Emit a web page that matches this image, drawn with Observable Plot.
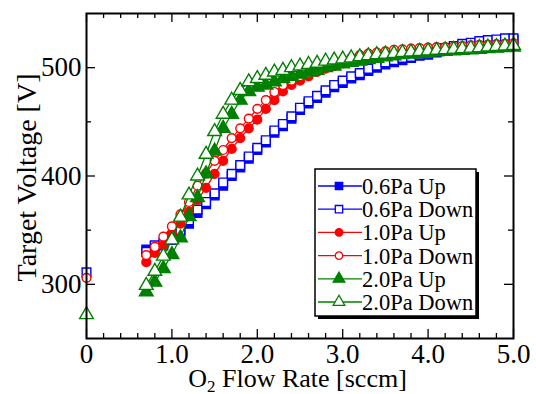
<!DOCTYPE html>
<html><head><meta charset="utf-8">
<script src="https://cdn.jsdelivr.net/npm/d3@7"></script>
<script src="https://cdn.jsdelivr.net/npm/@observablehq/plot@0.6"></script>
<style>html,body{margin:0;padding:0;background:#fff;}</style>
</head><body><div id="chart"></div>
<script>
// O2 flow rate [sccm]
const flow = [0.7,0.8,0.9,1.0, 1.1,1.2,1.3,1.4,1.5,1.6,1.7,1.8,1.9,2.0,
  2.1,2.2,2.3,2.4,2.5,2.6,2.7,2.8,2.9,3.0, 3.1,3.2,3.3,3.4,3.5,3.6,3.7,3.8,3.9,4.0,
  4.1,4.2,4.3,4.4,4.5,4.6,4.7,4.8,4.9,5.0];
// Target voltage [V]
const up06 = [332,335,336,341, 348,356,366,374,382,391,400,408,416,424,
  431,440,446,453,461,467,472,477,482,486, 490,493,497,500,503,505,507,509,511,512,
  514,516,518,520,521,522.5,523.5,524.5,525,525.5];
const down06 = [330,336,338,343, 350,359,369,376,384,394,402,410,418,426,
  433,442,448,455,463,469,474,479,484,488, 492,495,499,502,505,507,509,510,512,513,
  516,518,520,522,523,524.5,525.5,526,527,527];
const up10 = [320.5,329,336,347, 356,367,378,389,402,414,425,435,444,452,
  462,470,478,484,488,492,496,499,501.5,504, 505.5,507,508.5,510,511,512,513,514,515,516,
  517,517.5,518,519,519.5,520,521,521.5,522,522];
const down10 = [327,334.5,344,353.5, 364.5,376,391,402.5,414,424,435,444,453,462,
  470,477.5,484,488,492,495,498.5,501,503.5,506.5, 509,511.5,513,514,515,516.5,517,517.5,518,518.5,
  519,519,519.5,520,520.5,521,521,521.5,522,522.5];
const up20 = [293,302,314.5,327.5, 343,362.5,380,402,423,444,457,470,478,482,
  484,487,490,492,494,496,497.5,500,501.5,503.5, 505,506,507.5,508.5,510,511,512,512.5,513,514,
  514.5,515,515.5,516,516.5,517,517.5,518,518.5,519];
const down20 = [299,312,326,341, 362,382.5,400,420,441,457,470,479,487,490,
  493,496,497.5,500,501.5,503,504,506,507,508, 509,510,511,512,512.5,513,514,514.5,515,515.5,
  516,516.5,517,517.5,518,518.5,519,519.5,520,520.5];
// isolated points at 0 sccm (end of the Down sweeps)
const zeroFlow = [0];
const zero06 = [311];
const zero10 = [306];
const zero20 = [272];

const seriesNames = ["0.6Pa Up","0.6Pa Down","1.0Pa Up","1.0Pa Down","2.0Pa Up","2.0Pa Down"];
const xTicks = [0,1,2,3,4,5];
const xTickLabels = ["0","1.0","2.0","3.0","4.0","5.0"];
const yTicks = [300,400,500];

const blue = "#0000ff", red = "#ff0000", green = "#008000";
const series = [
  {name: seriesNames[0], color: blue,  symbol: "square",   filled: true,  vals: up06,   zero: null},
  {name: seriesNames[1], color: blue,  symbol: "square",   filled: false, vals: down06, zero: zero06},
  {name: seriesNames[2], color: red,   symbol: "circle",   filled: true,  vals: up10,   zero: null},
  {name: seriesNames[3], color: red,   symbol: "circle",   filled: false, vals: down10, zero: zero10},
  {name: seriesNames[4], color: green, symbol: "triangle", filled: true,  vals: up20,   zero: null},
  {name: seriesNames[5], color: green, symbol: "triangle", filled: false, vals: down20, zero: zero20}
];
const rSym = {square: 4.9, circle: 4.4, triangle: 5.1};

const W = 536, H = 394, mL = 86, mR = 23, mT = 13, mB = 56;
const fw = W - mL - mR, fh = H - mT - mB;
const xMinor = d3.range(0.2, 5, 0.2).filter(v => Math.abs(v - Math.round(v)) > 1e-6);
const yMinor = [350, 450];
const font = "'Liberation Serif','Times New Roman',Times,serif";

const marks = [];
for (const s of series) {
  const rows = flow.map((f, i) => ({flow: f, v: s.vals[i]}));
  marks.push(Plot.line(rows, {x: "flow", y: "v", stroke: s.color, strokeWidth: 1.3}));
  marks.push(Plot.dot(rows, {x: "flow", y: "v", symbol: s.symbol, r: rSym[s.symbol],
    fill: s.filled ? s.color : "white", stroke: s.color, strokeWidth: 1.4}));
  if (s.zero) {
    const zr = zeroFlow.map((f, i) => ({flow: f, v: s.zero[i]}));
    marks.push(Plot.dot(zr, {x: "flow", y: "v", symbol: s.symbol, r: rSym[s.symbol],
      fill: s.filled ? s.color : "white", stroke: s.color, strokeWidth: 1.4}));
  }
}

const svg = Plot.plot({
  width: W, height: H,
  marginLeft: mL, marginRight: mR, marginTop: mT, marginBottom: mB,
  style: {fontFamily: font, fontSize: "26px", background: "white", color: "black"},
  x: {domain: [0, 5]},
  y: {domain: [250, 550]},
  marks: [
    // inward ticks on all four sides
    Plot.ruleX(xTicks, {insetTop: fh - 9, stroke: "black", strokeWidth: 1.3}),
    Plot.ruleX(xTicks, {insetBottom: fh - 9, stroke: "black", strokeWidth: 1.3}),
    Plot.ruleX(xMinor, {insetTop: fh - 5, stroke: "black", strokeWidth: 1.3}),
    Plot.ruleX(xMinor, {insetBottom: fh - 5, stroke: "black", strokeWidth: 1.3}),
    Plot.ruleY(yTicks, {insetRight: fw - 9, stroke: "black", strokeWidth: 1.3}),
    Plot.ruleY(yTicks, {insetLeft: fw - 9, stroke: "black", strokeWidth: 1.3}),
    Plot.ruleY(yMinor, {insetRight: fw - 5, stroke: "black", strokeWidth: 1.3}),
    Plot.ruleY(yMinor, {insetLeft: fw - 5, stroke: "black", strokeWidth: 1.3}),
    Plot.axisX(xTicks, {tickSize: 0, tickPadding: 5, label: null,
      tickFormat: (d) => xTickLabels[xTicks.indexOf(d)], fill: "black"}),
    Plot.axisY(yTicks, {tickSize: 0, tickPadding: 5, label: null, fill: "black"}),
    ...marks,
    Plot.frame({stroke: "black", strokeWidth: 2})
  ]
});

// make tick label size explicit
d3.select(svg).selectAll("g[aria-label$='tick label'] text")
  .style("font-size", "27px").style("font-variant", "normal");

const g = d3.select(svg).append("g").attr("font-family", font).attr("fill", "black")
  .attr("text-anchor", "start");
// axis titles
const xt = g.append("text").attr("x", mL + fw / 2 - 2).attr("y", 387)
  .attr("text-anchor", "middle").attr("font-size", 26);
xt.append("tspan").text("O");
xt.append("tspan").attr("font-size", 17).attr("dy", 5).text("2");
xt.append("tspan").attr("dy", -5).text(" Flow Rate [sccm]");
g.append("text").attr("transform", `translate(36,${mT + fh / 2 + 2}) rotate(-90)`)
  .attr("text-anchor", "middle").attr("font-size", 28).text("Target Voltage [V]");

// legend
const lx = 315, ly = 169, lw = 161, lh = 147;
g.append("rect").attr("x", lx + 3).attr("y", ly + 3).attr("width", lw).attr("height", lh).attr("fill", "black");
g.append("rect").attr("x", lx).attr("y", ly).attr("width", lw).attr("height", lh)
  .attr("fill", "white").attr("stroke", "black").attr("stroke-width", 1.5);
const symMap = {square: d3.symbolSquare, circle: d3.symbolCircle, triangle: d3.symbolTriangle};
series.forEach((s, i) => {
  const yy = 186 + i * 23.2;
  g.append("line").attr("x1", 318).attr("x2", 362).attr("y1", yy).attr("y2", yy)
    .attr("stroke", s.color).attr("stroke-width", 1.3);
  const r = rSym[s.symbol] * 0.85;
  g.append("path").attr("d", d3.symbol(symMap[s.symbol], Math.PI * r * r)())
    .attr("transform", `translate(339,${yy})`)
    .attr("fill", s.filled ? s.color : "white").attr("stroke", s.color).attr("stroke-width", 1.3);
  g.append("text").attr("x", 362).attr("y", yy + 8).attr("font-size", 22.5)
    .attr("text-anchor", "start").text(s.name);
});

document.getElementById("chart").appendChild(svg);
</script>
</body></html>
